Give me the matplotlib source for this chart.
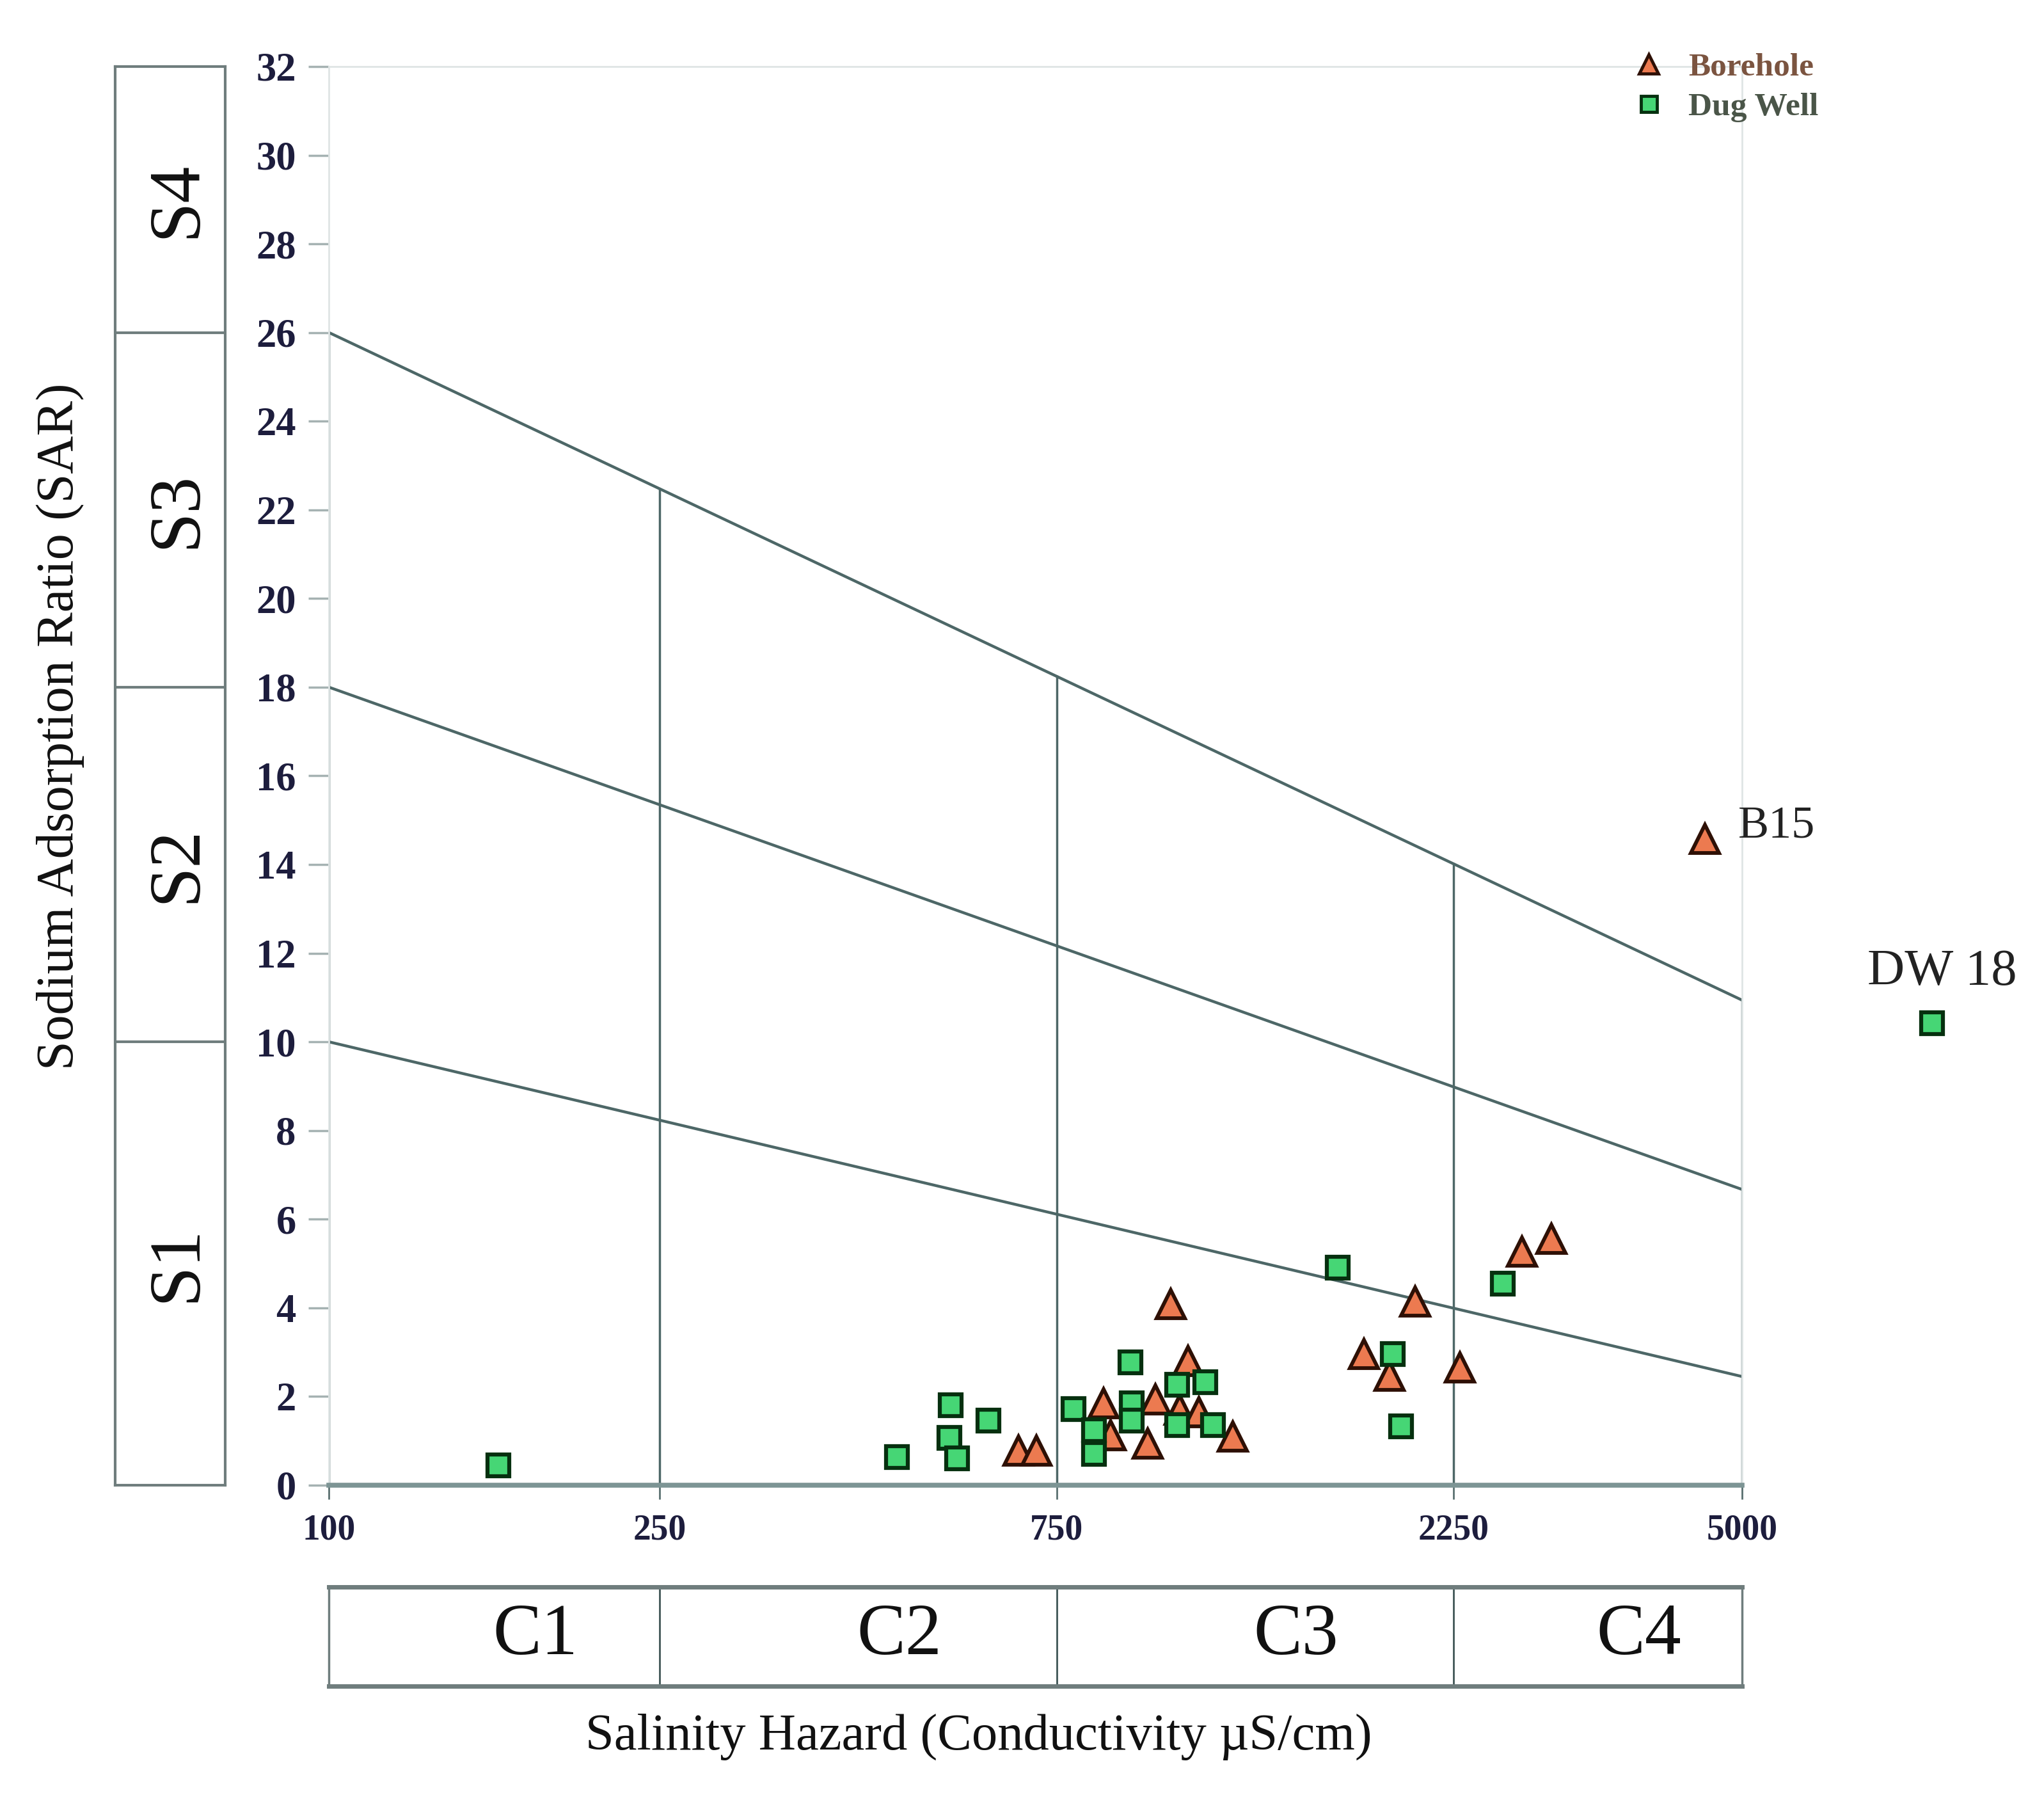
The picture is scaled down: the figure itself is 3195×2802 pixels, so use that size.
import numpy as np
import matplotlib
matplotlib.use('Agg')
import matplotlib.pyplot as plt
from matplotlib.lines import Line2D
from matplotlib.ticker import NullLocator

plt.rcParams['font.family'] = ['Liberation Serif', 'DejaVu Serif']

# Borehole samples: EC (uS/cm) and SAR, last one is B15
bh_ec = [674, 709, 854, 871, 965, 985, 1079, 1054, 1112, 1220, 1029,
         1756, 1884, 2023, 2290, 2717, 2951, 4515]
bh_sar = [0.78, 0.78, 1.84, 1.12, 0.93, 1.93, 2.80, 1.70, 1.64, 1.10, 4.09,
          2.96, 2.46, 4.14, 2.65, 5.27, 5.55, 14.58]

# Dug well samples, last one is DW 18
dw_ec = [160, 482, 559, 557, 569, 621, 785, 831, 831, 920, 923, 923,
         1047, 1132, 1047, 1155, 1631, 1901, 1946, 2576, 8453]
dw_sar = [0.45, 0.64, 1.81, 1.07, 0.61, 1.45, 1.72, 1.24, 0.71, 2.77, 1.84, 1.45,
          2.27, 2.32, 1.36, 1.36, 4.91, 2.96, 1.33, 4.55, 10.42]

# class limits of the US salinity diagram
ec_bounds = [100, 250, 750, 2250, 5000]
c_labels = ['C1', 'C2', 'C3', 'C4']
sar_bounds = [0, 10, 18, 26, 32]
s_labels = ['S1', 'S2', 'S3', 'S4']
# sodium hazard lines, SAR at EC=100 and EC=5000
line_sar_100 = [10, 18, 26]
line_sar_5000 = [2.45, 6.67, 10.94]

line_col = '#4d6767'
box_col = '#6f7d7d'
tick_col = '#1d1d3d'

fig = plt.figure(figsize=(31.95, 28.02), dpi=100)

# main diagram
ax = fig.add_axes([0.1609, 0.1717, 0.6914, 0.7912])
ax.set_xscale('log')
ax.set_xlim(100, 5000)
ax.set_ylim(0, 32)

for a, b in zip(line_sar_100, line_sar_5000):
    ax.plot([100, 5000], [a, b], color=line_col, lw=3.2, zorder=2)

def top_line(ec):
    f = np.log10(ec / 100) / np.log10(50)
    return line_sar_100[-1] + (line_sar_5000[-1] - line_sar_100[-1]) * f

for ec in ec_bounds:
    ax.plot([ec, ec], [0, top_line(ec)], color=line_col, lw=2.5, zorder=2)

for s in ['top', 'right', 'left']:
    ax.spines[s].set_color('#dfe5e5')
    ax.spines[s].set_linewidth(2)
ax.spines['bottom'].set_color('#7d9595')
ax.spines['bottom'].set_linewidth(5.5)

ax.set_xticks(ec_bounds)
ax.set_xticklabels([str(v) for v in ec_bounds])
ax.xaxis.set_minor_locator(NullLocator())
ax.set_yticks(np.arange(0, 33, 2))
ax.tick_params(axis='x', length=16, width=2, color='#5a7070', labelsize=40,
               pad=16, labelcolor=tick_col)
ax.tick_params(axis='y', length=23, width=2.5, color='#a5b2b2', labelsize=45,
               pad=14, labelcolor=tick_col)
for t in ax.get_xticklabels() + ax.get_yticklabels():
    t.set_fontweight('bold')

ax.plot(bh_ec, bh_sar, ls='none', marker='^', ms=31, mfc='#ec7a50', mec='#2e1005',
        mew=4.2, zorder=4, clip_on=False)
ax.plot(dw_ec, dw_sar, ls='none', marker='s', ms=25, mfc='#46d675', mec='#06300f',
        mew=4.5, zorder=5, clip_on=False)

ax.annotate('B15', (bh_ec[-1], bh_sar[-1]), xytext=(37, 14), textcoords='offset points',
            ha='left', va='center', fontsize=52, color='#222222', annotation_clip=False)
ax.annotate('DW 18', (dw_ec[-1], dw_sar[-1]), xytext=(12, 57), textcoords='offset points',
            ha='center', va='center', fontsize=58, color='#222222', annotation_clip=False)

handles = [Line2D([], [], ls='none', marker='^', ms=22, mfc='#ec7a50', mec='#2e1005', mew=3.5),
           Line2D([], [], ls='none', marker='s', ms=18, mfc='#46d675', mec='#06300f', mew=3.5)]
leg = ax.legend(handles, ['Borehole', 'Dug Well'], loc='upper left',
                bbox_to_anchor=(0.7905, 0.98), bbox_transform=fig.transFigure,
                frameon=False, handlelength=1, handletextpad=0.7, borderpad=0,
                labelspacing=0.3, fontsize=37)
leg.get_texts()[0].set_color('#7b5440')
leg.get_texts()[1].set_color('#4a5548')
for t in leg.get_texts():
    t.set_fontweight('bold')

# sodium hazard classes on the left
ax_s = fig.add_axes([0.0563, 0.1717, 0.0538, 0.7912])
ax_s.set_xlim(0, 1)
ax_s.set_ylim(0, 32)
ax_s.set_xticks([])
ax_s.set_yticks([])
for s in ax_s.spines.values():
    s.set_color(box_col)
    s.set_linewidth(3)
for b in sar_bounds[1:-1]:
    ax_s.axhline(b, color=box_col, lw=3)
for lab, lo, hi in zip(s_labels, sar_bounds[:-1], sar_bounds[1:]):
    ax_s.text(0.57, (lo + hi) / 2, lab, rotation=90, ha='center', va='center',
              fontsize=82, color='#111111')

# salinity hazard classes below
ax_c = fig.add_axes([0.1609, 0.0596, 0.6914, 0.0553])
ax_c.set_xscale('log')
ax_c.set_xlim(100, 5000)
ax_c.set_ylim(0, 1)
ax_c.set_xticks([])
ax_c.set_yticks([])
ax_c.xaxis.set_minor_locator(NullLocator())
for s in ['top', 'bottom']:
    ax_c.spines[s].set_color(box_col)
    ax_c.spines[s].set_linewidth(5)
for s in ['left', 'right']:
    ax_c.spines[s].set_color(box_col)
    ax_c.spines[s].set_linewidth(2.5)
for b in ec_bounds[1:-1]:
    ax_c.axvline(b, color='#3f5555', lw=2)
for lab, lo, hi in zip(c_labels, ec_bounds[:-1], ec_bounds[1:]):
    ax_c.text(np.sqrt(lo * hi) * 1.12, 0.5, lab, ha='center', va='center',
              fontsize=82, color='#111111')

fig.text(0.4789, 0.0314, 'Salinity Hazard (Conductivity µS/cm)', ha='center', va='center',
         fontsize=58, color='#111111')
fig.text(0.0294, 0.595, 'Sodium Adsorption Ratio (SAR)', rotation=90, ha='center',
         va='center', fontsize=59, color='#111111')

fig.savefig('out.png', dpi=100, facecolor='white')
